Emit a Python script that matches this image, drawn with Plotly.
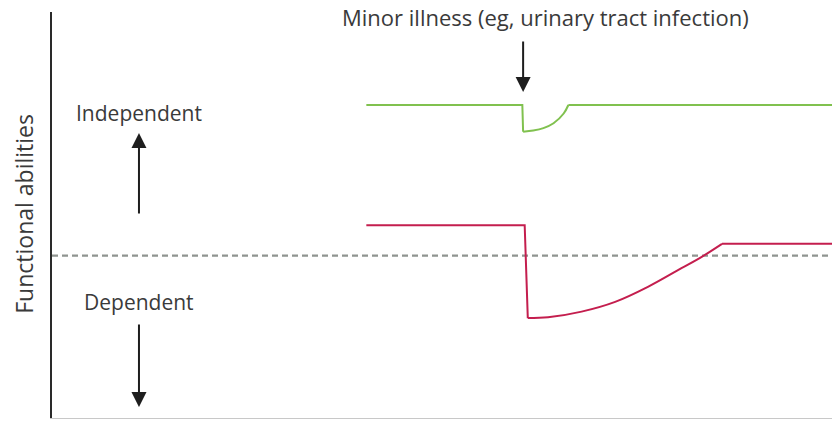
import plotly.graph_objects as go

# Time (arbitrary units 0-100) and functional ability (arbitrary 0-100)
time_green_step = [40.3, 60.3, 60.4]
ability_green_step = [77.1, 77.1, 70.5]
time_green_recovery = [60.4, 61.7, 63.0, 64.3, 65.6, 66.2]
ability_green_recovery = [70.5, 70.8, 71.4, 72.6, 75.0, 77.1]
time_green_after = [66.2, 100]
ability_green_after = [77.1, 77.1]

time_red_step = [40.3, 60.6, 61.0]
ability_red_step = [47.5, 47.5, 24.6]
time_red_recovery = [61.0, 63.6, 67.9, 72.2, 76.4, 80.7, 83.3, 85.9]
ability_red_recovery = [24.6, 24.8, 26.2, 28.6, 32.3, 36.9, 39.7, 42.9]
time_red_after = [85.9, 100]
ability_red_after = [42.9, 42.9]

threshold_time = [0, 100]
threshold_value = [40, 40]

illness_time = 60.4
labels = {"up": "Independent", "down": "Dependent",
          "event": "Minor illness (eg, urinary tract infection)",
          "yaxis": "Functional abilities"}

FONT = "Open Sans"
TXT = "#3a3a3a"
GREEN = "#80c14f"
RED = "#c41e4e"

fig = go.Figure()
fig.add_trace(go.Scatter(x=threshold_time, y=threshold_value, mode="lines",
                         line=dict(color="#8f9490", width=2.2, dash="6px,4px"),
                         hoverinfo="skip"))
for xs, ys, col, shape in [
    (time_green_step, ability_green_step, GREEN, "linear"),
    (time_green_recovery, ability_green_recovery, GREEN, "spline"),
    (time_green_after, ability_green_after, GREEN, "linear"),
    (time_red_step, ability_red_step, RED, "linear"),
    (time_red_recovery, ability_red_recovery, RED, "spline"),
    (time_red_after, ability_red_after, RED, "linear"),
]:
    fig.add_trace(go.Scatter(x=xs, y=ys, mode="lines",
                             line=dict(color=col, width=2, shape=shape),
                             hoverinfo="skip"))

anns = []
def arrow(x, y_tail, y_head):
    return dict(x=x, y=y_head, ax=x, ay=y_tail, xref="x", yref="y",
                axref="x", ayref="y", showarrow=True, arrowhead=2,
                arrowsize=1.5, arrowwidth=2, arrowcolor="#1e1e1e", text="")

anns.append(arrow(11.15, 50.0, 70.2))
anns.append(arrow(11.15, 23.4, 2.7))
anns.append(arrow(illness_time, 93.1, 80.3))

anns.append(dict(x=11.15, y=75.1, xref="x", yref="y", text=labels["up"],
                 showarrow=False, font=dict(family=FONT, size=21, color=TXT)))
anns.append(dict(x=11.15, y=28.6, xref="x", yref="y", text=labels["down"],
                 showarrow=False, font=dict(family=FONT, size=21, color=TXT)))
anns.append(dict(x=63.3, y=98.8, xref="x", yref="y", text=labels["event"],
                 showarrow=False, font=dict(family=FONT, size=22, color=TXT)))
anns.append(dict(x=-0.0359, y=0.503, xref="paper", yref="paper", text=labels["yaxis"],
                 textangle=-90, showarrow=False, xanchor="center", yanchor="middle",
                 font=dict(family=FONT, size=23, color=TXT)))

fig.update_layout(
    width=832, height=421,
    margin=dict(l=52, r=0, t=12, b=3),
    paper_bgcolor="white", plot_bgcolor="white",
    showlegend=False,
    annotations=anns,
    xaxis=dict(range=[0, 100], showgrid=False, zeroline=False, showticklabels=False,
               ticks="", showline=True, linecolor="#c8c8c8", linewidth=1),
    yaxis=dict(range=[0, 100], showgrid=False, zeroline=False, showticklabels=False,
               ticks="", showline=True, linecolor="#2a2a2a", linewidth=2),
)

fig.write_html("out.html",
               config={"displayModeBar": False, "staticPlot": True},
               post_script="document.body.style.margin='0';document.body.style.overflow='hidden';")
